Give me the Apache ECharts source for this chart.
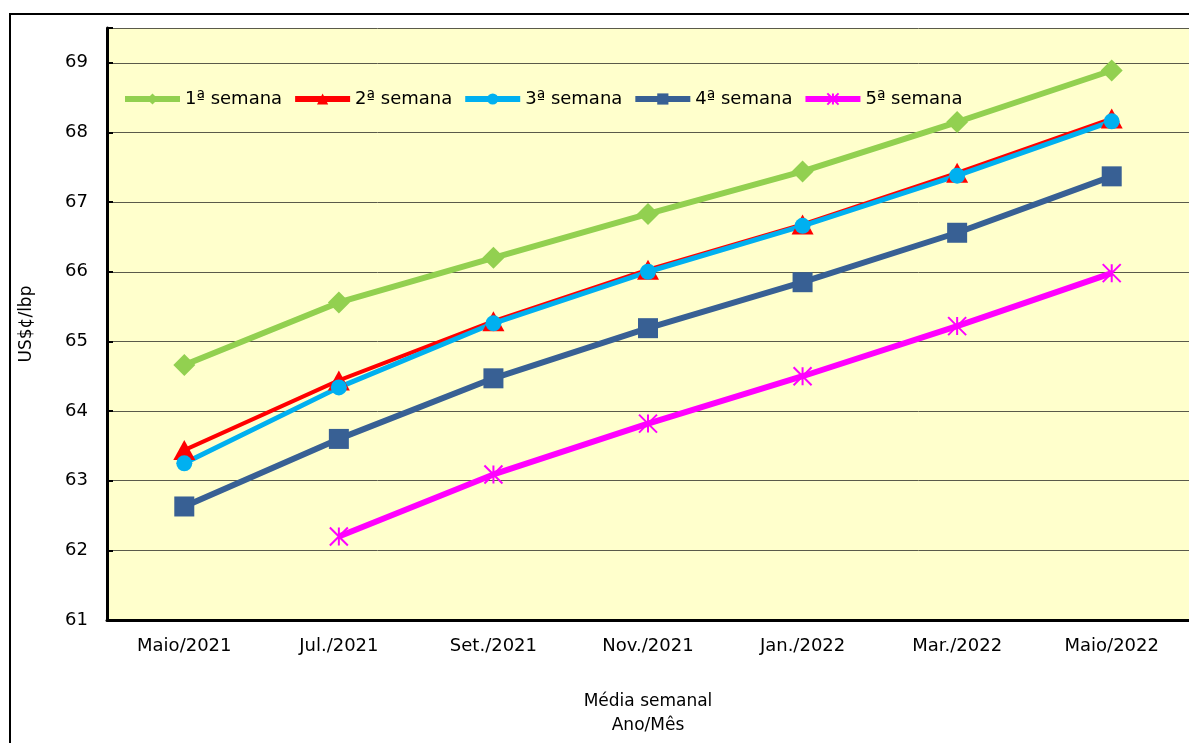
<!DOCTYPE html>
<html>
<head>
<meta charset="utf-8">
<script src="https://cdn.jsdelivr.net/npm/echarts@6/dist/echarts.min.js"></script>
<style>
html,body{margin:0;padding:0;background:#fff;overflow:hidden;}
#frame{position:absolute;left:9px;top:13px;width:1400px;height:900px;border:2px solid #000;box-sizing:border-box;}
#chart{position:absolute;left:0;top:0;width:1189px;height:743px;}
</style>
</head>
<body>
<div id="frame"></div>
<div id="chart"></div>
<script>
const categories = ['Maio/2021','Jul./2021','Set./2021','Nov./2021','Jan./2022','Mar./2022','Maio/2022'];
const semana1 = [64.66, 65.56, 66.20, 66.83, 67.44, 68.15, 68.89];
const semana2 = [63.44, 64.44, 65.29, 66.03, 66.68, 67.42, 68.20];
const semana3 = [63.25, 64.34, 65.26, 66.00, 66.66, 67.38, 68.16];
const semana4 = [62.63, 63.60, 64.47, 65.19, 65.85, 66.56, 67.37];
const semana5 = [null, 62.20, 63.09, 63.82, 64.50, 65.22, 65.98];
const seriesNames = ['1ª semana','2ª semana','3ª semana','4ª semana','5ª semana'];
const yMin = 61, yMax = 69.5, yInterval = 1;

const FONT = 'DejaVu Sans';
const chart = echarts.init(document.getElementById('chart'));
const asterisk = 'path://M0,0L10,10M10,0L0,10M5,0L5,10';

function mk(name, data, color, width, symbol, size, extra) {
  return Object.assign({
    name, type: 'line', data, symbol, symbolSize: size,
    lineStyle: {color, width},
    itemStyle: {color},
    showSymbol: true, connectNulls: false, animation: false
  }, extra || {});
}

chart.setOption({
  animation: false,
  textStyle: {fontFamily: FONT},
  grid: {left: 107, top: 28, right: -3, bottom: 122, show: true, backgroundColor: '#FFFFCC', borderWidth: 0},
  legend: {
    left: 122, top: 90, padding: 0, itemWidth: 55, itemHeight: 14, itemGap: 10,
    lineStyle: {width: 6},
    textStyle: {fontFamily: FONT, fontSize: 18, color: '#000'},
    data: seriesNames
  },
  xAxis: {
    type: 'category', data: categories, boundaryGap: true,
    axisLine: {lineStyle: {color: '#000', width: 3}},
    axisTick: {inside: true, length: 6, lineStyle: {color: '#000', width: 2}},
    axisLabel: {fontFamily: FONT, fontSize: 18, color: '#000', margin: 17},
    name: 'Média semanal\nAno/Mês', nameLocation: 'middle', nameGap: 70,
    nameTextStyle: {fontFamily: FONT, fontSize: 17, color: '#000', lineHeight: 24}
  },
  yAxis: {
    type: 'value', min: yMin, max: yMax, interval: yInterval,
    axisLine: {show: true, lineStyle: {color: '#000', width: 3}},
    axisTick: {show: true, inside: true, length: 6, lineStyle: {color: '#000', width: 2}},
    axisLabel: {fontFamily: FONT, fontSize: 18, color: '#000', margin: 19,
      formatter: v => Number.isInteger(v) ? String(v) : ''},
    splitLine: {show: true, lineStyle: {color: '#5a5a4a', width: 1}},
    name: 'US$¢/lbp', nameLocation: 'middle', nameGap: 72, nameRotate: 90,
    nameTextStyle: {fontFamily: FONT, fontSize: 17, color: '#000'}
  },
  series: [
    mk(seriesNames[0], semana1, '#92D050', 6, 'diamond', [22,22]),
    mk(seriesNames[1], semana2, '#FF0000', 4, 'triangle', [22,20]),
    mk(seriesNames[2], semana3, '#00B0F0', 5, 'circle', 16),
    mk(seriesNames[3], semana4, '#386094', 6, 'rect', 20),
    mk(seriesNames[4], semana5, '#FF00FF', 6, asterisk, 18,
      {itemStyle: {color: '#FF00FF', borderColor: '#FF00FF', borderWidth: 2}})
  ]
});
</script>
</body>
</html>
